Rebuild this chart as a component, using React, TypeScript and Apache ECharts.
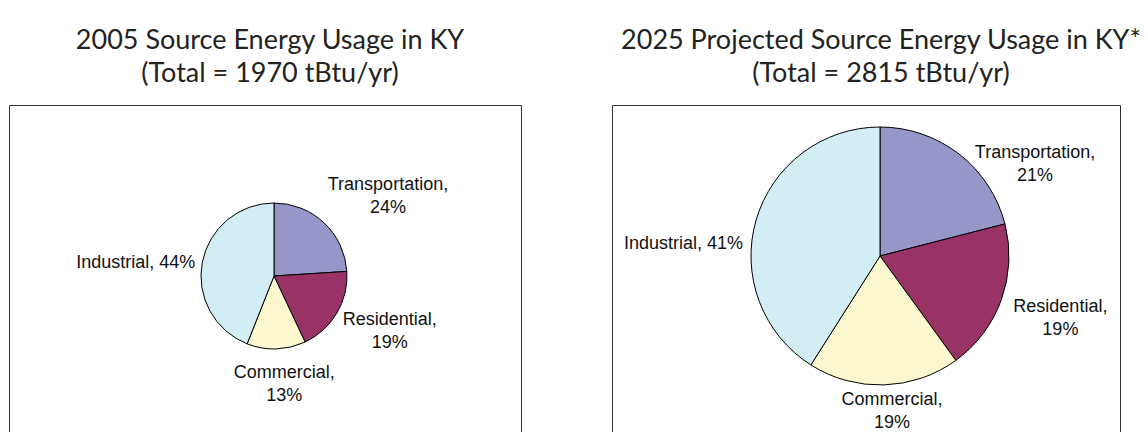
import React, { useEffect, useRef } from "react";
import * as echarts from "echarts";

const categories = ["Transportation", "Residential", "Commercial", "Industrial"];
const values2005 = [24, 19, 13, 44];
const values2025 = [21, 19, 19, 41];
const title2005 = "2005 Source Energy Usage in KY";
const sub2005 = "(Total = 1970 tBtu/yr)";
const title2025 = "2025 Projected Source Energy Usage in KY*";
const sub2025 = "(Total = 2815 tBtu/yr)";
const colors = ["#9696C8", "#993366", "#FBF8CF", "#D3EDF5"];

// label offsets (style) relative to slice edge midpoint
const offsets2005 = [[64, -27], [53, 17], [8, 35], [-7, 0]];
const offsets2025 = [[76, 9], [59, 18], [8, 26], [-13, 23]];

function makePie(values: number[], center: number[], radius: number, offsets: number[][]) {
  return {
    type: "pie",
    center,
    radius,
    startAngle: 90,
    clockwise: true,
    avoidLabelOverlap: false,
    data: categories.map((name, i) => ({
      name,
      value: values[i],
      itemStyle: { color: colors[i] },
    })),
    itemStyle: { borderColor: "#000", borderWidth: 1 },
    emphasis: { disabled: true },
    label: {
      show: true,
      position: "outside",
      distanceToLabelLine: 0,
      color: "#111",
      fontFamily: "Liberation Sans, Arial, sans-serif",
      fontSize: 18,
      lineHeight: 23,
      formatter: (p: any) =>
        p.dataIndex === 3 ? `${p.name}, ${p.value}%` : `${p.name},\n${p.value}%`,
    },
    labelLine: { show: false, length: 0, length2: 0 },
    labelLayout: (p: any) => {
      const o = offsets[p.dataIndex];
      return {
        dx: o[0],
        dy: o[1],
        align: p.dataIndex === 3 ? "right" : "center",
      };
    },
  };
}

export default function App() {
  const ref = useRef<HTMLDivElement>(null);
  useEffect(() => {
    if (!ref.current) return;
    const chart = echarts.init(ref.current, null, { renderer: "svg" });
    const titleStyle = {
      fontFamily: "Lato, 'Noto Sans', sans-serif",
      fontSize: 27,
      fontWeight: "normal",
      color: "#222",
      lineHeight: 33,
    };
    chart.setOption({
      animation: false,
      backgroundColor: "#fff",
      title: [
        { text: title2005 + "\n" + sub2005, left: 265, top: 17, textAlign: "center", textStyle: titleStyle },
        { text: title2025 + "\n" + sub2025, left: 876, top: 17, textAlign: "center", textStyle: titleStyle },
      ],
      graphic: [
        {
          type: "rect",
          z: -10,
          shape: { x: 9.5, y: 105.5, width: 512, height: 360 },
          style: { fill: "#fff", stroke: "#333", lineWidth: 1 },
        },
        {
          type: "rect",
          z: -10,
          shape: { x: 612.5, y: 105.5, width: 508, height: 360 },
          style: { fill: "#fff", stroke: "#333", lineWidth: 1 },
        },
      ],
      series: [
        makePie(values2005, [274, 276], 73, offsets2005),
        makePie(values2025, [880, 256], 129, offsets2025),
      ],
    });
    return () => chart.dispose();
  }, []);
  return (
    <div
      ref={ref}
      style={{ position: "absolute", left: 0, top: 0, width: 1148, height: 432 }}
    />
  );
}
